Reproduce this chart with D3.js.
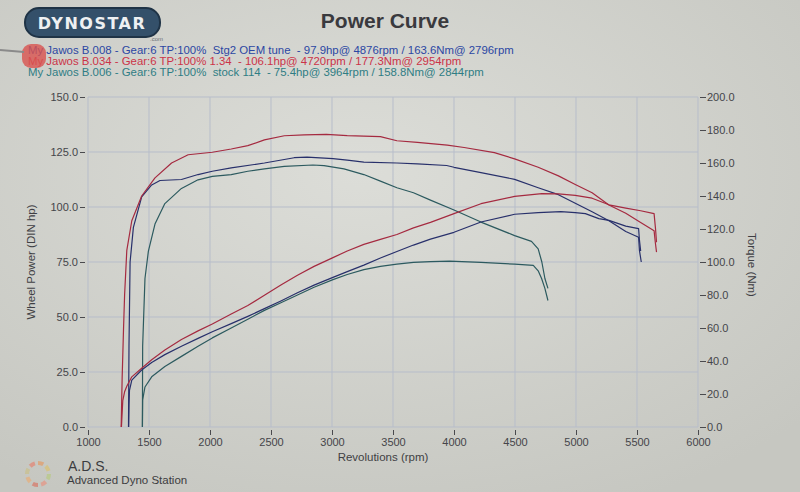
<!DOCTYPE html>
<html>
<head>
<meta charset="utf-8">
<script src="https://cdn.jsdelivr.net/npm/d3@7"></script>
<style>
  html, body { margin: 0; padding: 0; background: #d2d3cd; }
  svg { display: block; font-family: "Liberation Sans", Arial, sans-serif; }
  .legend text { white-space: pre; }
</style>
</head>
<body>
<svg width="800" height="492"></svg>
<script>
// run B.034 (1.34) - red
var redTorque = [[1272,0],[1280,30],[1291,59],[1300,80],[1318,107],[1359,125],[1440,140],[1549,151],[1685,160],[1821,165],[2019,166.5],[2174,168.5],[2310,170.5],[2446,174],[2609,176.5],[2772,177],[2954,177.3],[3125,176.6],[3397,176],[3532,173.5],[3700,172.5],[3945,170.8],[4083,169.4],[4331,166.3],[4497,162.5],[4690,157.4],[4856,152.2],[4994,147],[5132,142],[5270,134.5],[5408,129.5],[5530,124],[5640,119],[5650,112],[5660,106]];
var redPower = [[1274,0],[1285,12],[1300,16],[1318,18.5],[1359,22.8],[1440,26.7],[1522,30.6],[1630,35],[1766,39.8],[1902,43.7],[2019,46.8],[2174,51.4],[2310,55.2],[2446,59.9],[2581,64.5],[2717,69],[2853,73],[3008,77],[3125,80],[3261,83],[3397,85.3],[3532,87.5],[3668,90.5],[3807,93],[4000,97],[4221,101.5],[4497,104.8],[4720,106.1],[4856,106],[4994,105.3],[5132,104],[5270,101],[5408,99.5],[5530,98.3],[5640,97],[5652,90],[5660,84]];

// run B.008 (Stg2 OEM tune) - blue
var blueTorque = [[1332,0],[1334,25],[1336,49],[1345,100],[1372,121],[1440,139.5],[1522,146.7],[1590,149.4],[1766,150],[1902,153],[2019,155],[2174,157],[2446,160],[2690,163.2],[2796,163.6],[3008,162.6],[3125,161.7],[3261,160.5],[3532,160],[3700,159.5],[3940,158.5],[4000,157.4],[4221,154.2],[4497,150.1],[4690,145],[4856,140.8],[4994,135.6],[5132,130.4],[5270,125],[5408,118.5],[5513,115],[5520,107],[5535,100]];
var bluePower = [[1333,0],[1336,10],[1340,16.7],[1359,21.3],[1440,25.9],[1522,29.3],[1630,32.9],[1766,36.7],[1902,40.3],[2019,43.3],[2174,47],[2310,50.3],[2446,53.8],[2581,57.3],[2717,61],[2853,64.5],[3008,68],[3125,70.6],[3261,73.6],[3397,76.8],[3532,79.8],[3668,82.7],[3807,85.4],[4000,88.5],[4221,93.2],[4497,96.7],[4690,97.4],[4876,97.9],[4994,97.4],[5077,97],[5187,94.7],[5270,93.9],[5408,91.3],[5513,90.2],[5520,85],[5530,80]];

// run B.006 (stock 114) - teal
var tealTorque = [[1446,0],[1447,30],[1448,49],[1467,90],[1495,106.6],[1549,123],[1630,135.4],[1766,144.6],[1902,149.8],[2019,151.9],[2174,153],[2310,155],[2446,156.4],[2609,158],[2844,158.8],[2935,158.4],[3098,156.4],[3261,153],[3397,149],[3532,145],[3668,142],[3807,137.5],[4000,131.5],[4221,124.2],[4497,116],[4635,112.5],[4690,108],[4720,100],[4745,90],[4770,84]];
var tealPower = [[1446,0],[1448,12.3],[1467,18.2],[1522,22.8],[1630,27.5],[1766,32.1],[1902,36.7],[2019,40.5],[2174,45],[2310,49],[2446,53],[2581,56.5],[2717,60],[2853,63.5],[3008,67],[3125,69.3],[3261,71.5],[3397,73],[3532,74],[3668,74.8],[3807,75.2],[3964,75.4],[4221,74.8],[4497,74],[4650,73.5],[4690,71],[4718,67.5],[4745,63],[4770,57.5]];

var legendLines = [
  "My Jawos B.008 - Gear:6 TP:100%  Stg2 OEM tune  - 97.9hp@ 4876rpm / 163.6Nm@ 2796rpm",
  "My Jawos B.034 - Gear:6 TP:100% 1.34  - 106.1hp@ 4720rpm / 177.3Nm@ 2954rpm",
  "My Jawos B.006 - Gear:6 TP:100%  stock 114  - 75.4hp@ 3964rpm / 158.8Nm@ 2844rpm"
];
var legendColors = ["#2c47a3", "#cc3348", "#2f7d84"];

var rpmTicks = d3.range(1000, 6001, 500);
var powerTicks = d3.range(0, 151, 25);
var torqueTicks = d3.range(0, 201, 20);

var svg = d3.select('svg');

// background like the paper
var defs = svg.append('defs');
var grad = defs.append('radialGradient').attr('id', 'paper')
    .attr('cx', '45%').attr('cy', '35%').attr('r', '75%');
grad.append('stop').attr('offset', '0%').attr('stop-color', '#dcddd8');
grad.append('stop').attr('offset', '100%').attr('stop-color', '#c6c7c1');
svg.append('rect').attr('width', 800).attr('height', 492).attr('fill', 'url(#paper)');

var x = d3.scaleLinear().domain([1000, 6000]).range([88, 698]);
var yPow = d3.scaleLinear().domain([0, 150]).range([427, 97]);
var yTrq = d3.scaleLinear().domain([0, 200]).range([427, 97]);

// grid
var grid = svg.append('g').attr('stroke', '#b7bdca').attr('stroke-width', 1);
grid.selectAll('line.v').data(rpmTicks).enter().append('line')
    .attr('x1', d => x(d)).attr('x2', d => x(d))
    .attr('y1', yPow(150)).attr('y2', yPow(0));
grid.selectAll('line.h').data(powerTicks).enter().append('line')
    .attr('x1', x(1000)).attr('x2', x(6000))
    .attr('y1', d => yPow(d)).attr('y2', d => yPow(d));

// axes
var axisColor = '#4a4a4e';
function styleAxis(g) {
    g.select('.domain').remove();
    g.selectAll('line').attr('stroke', axisColor);
    g.selectAll('text').attr('fill', '#45454a').attr('font-size', 11);
}

svg.append('g').attr('transform', 'translate(85,0)')
    .call(d3.axisLeft(yPow).tickValues(powerTicks).tickFormat(d3.format('.1f')).tickSize(5).tickPadding(2))
    .call(styleAxis);

svg.append('g').attr('transform', 'translate(700,0)')
    .call(d3.axisRight(yTrq).tickValues(torqueTicks).tickFormat(d3.format('.1f')).tickSize(6).tickPadding(1))
    .call(styleAxis);

svg.append('g').attr('transform', 'translate(0,430)')
    .call(d3.axisBottom(x).tickValues(rpmTicks).tickFormat(d3.format('d')).tickSize(5).tickPadding(3))
    .call(styleAxis);

// axis titles
svg.append('text').attr('x', 383).attr('y', 461).attr('text-anchor', 'middle')
    .attr('font-size', 11.5).attr('fill', '#3f3f44').text('Revolutions (rpm)');
svg.append('text').attr('transform', 'translate(35,262) rotate(-90)').attr('text-anchor', 'middle')
    .attr('font-size', 11.5).attr('fill', '#3f3f44').text('Wheel Power (DIN hp)');
svg.append('text').attr('transform', 'translate(748,265) rotate(90)').attr('text-anchor', 'middle')
    .attr('font-size', 11.5).attr('fill', '#3f3f44').text('Torque (Nm)');

// curves
var powerLine = d3.line().x(d => x(d[0])).y(d => yPow(d[1]));
var torqueLine = d3.line().x(d => x(d[0])).y(d => yTrq(d[1]));

var curves = [
    { data: tealTorque, line: torqueLine, color: '#2c5a5f' },
    { data: tealPower, line: powerLine, color: '#2c5a5f' },
    { data: blueTorque, line: torqueLine, color: '#28306b' },
    { data: bluePower, line: powerLine, color: '#28306b' },
    { data: redTorque, line: torqueLine, color: '#a52a40' },
    { data: redPower, line: powerLine, color: '#a52a40' }
];
svg.append('g').selectAll('path').data(curves).enter().append('path')
    .attr('d', d => d.line(d.data))
    .attr('fill', 'none')
    .attr('stroke', d => d.color)
    .attr('stroke-width', 1.2)
    .attr('stroke-linejoin', 'round');

// title
svg.append('text').attr('x', 385).attr('y', 28).attr('text-anchor', 'middle')
    .attr('font-size', 21).attr('font-weight', 'bold').attr('fill', '#3a3a3e').text('Power Curve');

// legend
svg.append('g').attr('class', 'legend').selectAll('text').data(legendLines).enter().append('text')
    .attr('x', 28).attr('y', (d, i) => 54 + i * 11)
    .attr('font-size', 11.4)
    .attr('fill', (d, i) => legendColors[i])
    .text(d => d);

// dynostar logo
var logo = svg.append('g');
logo.append('rect').attr('x', 25).attr('y', 8).attr('width', 135).attr('height', 29).attr('rx', 14)
    .attr('fill', '#34506a').attr('stroke', '#1f3346').attr('stroke-width', 2);
logo.append('text').attr('x', 92).attr('y', 29).attr('text-anchor', 'middle')
    .attr('font-family', 'DejaVu Sans, sans-serif').attr('font-weight', 'bold')
    .attr('font-size', 16).attr('letter-spacing', 1.5).attr('fill', '#eef0f2').text('DYNOSTAR');
logo.append('text').attr('x', 150).attr('y', 41).attr('font-size', 6).attr('fill', '#6a7078').text('.com');

// red pin over the legend start
svg.append('rect').attr('x', 22).attr('y', 44).attr('width', 24).attr('height', 24).attr('rx', 9)
    .attr('fill', '#d9534f').attr('opacity', 0.8);
svg.append('line').attr('x1', 0).attr('x2', 24).attr('y1', 50).attr('y2', 52)
    .attr('stroke', '#8a8a8a').attr('stroke-width', 2);

// footer
var ring = svg.append('g').attr('transform', 'translate(38,474)');
ring.selectAll('path').data(d3.range(8)).enter().append('path')
    .attr('d', d3.arc().innerRadius(9).outerRadius(13).startAngle(0).endAngle(0.5))
    .attr('transform', d => 'rotate(' + d * 45 + ')')
    .attr('fill', (d, i) => ['#e0a070', '#d7c27a', '#b9c98a', '#e29a8a', '#d48070', '#e3b080', '#c9c090', '#e08c7c'][i])
    .attr('opacity', 0.8);
svg.append('text').attr('x', 68).attr('y', 471).attr('font-size', 14).attr('fill', '#3c3c40').text('A.D.S.');
svg.append('text').attr('x', 67).attr('y', 484).attr('font-size', 11.5).attr('fill', '#3c3c40').text('Advanced Dyno Station');
</script>
</body>
</html>
